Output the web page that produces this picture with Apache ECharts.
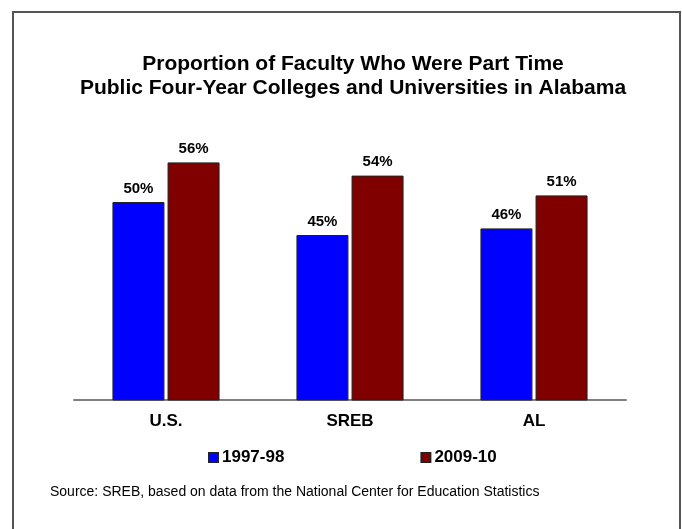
<!DOCTYPE html>
<html>
<head>
<meta charset="utf-8">
<script src="https://cdn.jsdelivr.net/npm/echarts@6/dist/echarts.min.js"></script>
<style>
  html, body { margin: 0; padding: 0; background: #fff; }
  #chart { width: 682px; height: 529px; }
</style>
</head>
<body>
<div id="chart"></div>
<script>
// data
const categories = ['U.S.', 'SREB', 'AL']
const seriesNames = ['1997-98', '2009-10']
const values9798 = [50, 45, 46]
const values0910 = [56, 54, 51]
const colors = ['#0000FF', '#800000']

const chart = echarts.init(document.getElementById('chart'))
const font = 'Arial, "Liberation Sans", sans-serif'

const barLabel = {
  show: true,
  position: 'top',
  distance: 6,
  formatter: '{c}%',
  fontFamily: font,
  fontWeight: 'bold',
  fontSize: 15,
  color: '#000'
}

chart.setOption({
  backgroundColor: '#fff',
  animation: false,
  title: {
    text: 'Proportion of Faculty Who Were Part Time\nPublic Four-Year Colleges and Universities in Alabama',
    left: 348,
    textAlign: 'center',
    top: 47,
    textStyle: {
      fontFamily: font,
      fontWeight: 'bold',
      fontSize: 21,
      lineHeight: 24,
      color: '#000'
    }
  },
  legend: {
    data: seriesNames,
    top: 444,
    left: 203,
    itemWidth: 9,
    itemHeight: 9,
    itemGap: 136,
    icon: 'rect',
    textStyle: {
      fontFamily: font,
      fontWeight: 'bold',
      fontSize: 17,
      color: '#000',
      padding: [0, 0, 0, -1]
    }
  },
  grid: {
    left: 74,
    right: 56,
    top: 136,
    bottom: 129,
    containLabel: false
  },
  xAxis: {
    type: 'category',
    data: categories,
    axisLine: { lineStyle: { color: '#808080', width: 2 } },
    axisTick: { show: false },
    axisLabel: {
      margin: 13,
      fontFamily: font,
      fontWeight: 'bold',
      fontSize: 17,
      color: '#000'
    }
  },
  yAxis: {
    type: 'value',
    min: 20,
    max: 60,
    show: false,
    splitLine: { show: false }
  },
  series: [
    {
      name: seriesNames[0],
      type: 'bar',
      data: values9798,
      barWidth: 52,
      barGap: '6%',
      itemStyle: { color: colors[0], borderColor: '#222', borderWidth: 1 },
      label: barLabel
    },
    {
      name: seriesNames[1],
      type: 'bar',
      data: values0910,
      barWidth: 52,
      itemStyle: { color: colors[1], borderColor: '#222', borderWidth: 1 },
      label: barLabel
    }
  ],
  graphic: [
    {
      type: 'polyline',
      shape: { points: [[13, 540], [13, 12], [680, 12], [680, 540]] },
      style: { stroke: '#555', lineWidth: 2, fill: null }
    },
    {
      type: 'text',
      left: 50,
      top: 485,
      style: {
        text: 'Source: SREB, based on data from the National Center for Education Statistics',
        fontFamily: font,
        fontSize: 14,
        fill: '#000'
      }
    }
  ]
})

window.addEventListener('resize', () => chart.resize())
</script>
</body>
</html>
